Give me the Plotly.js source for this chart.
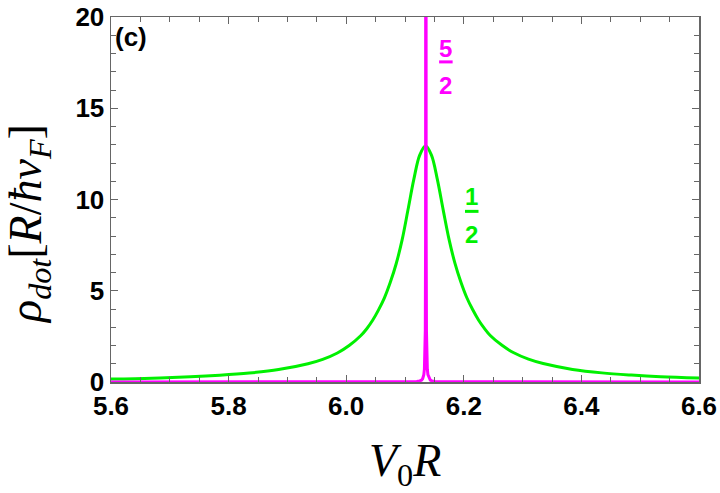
<!DOCTYPE html>
<html>
<head>
<meta charset="utf-8">
<script src="https://cdn.plot.ly/plotly-3.0.1.min.js"></script>
<style>
  html, body { margin: 0; padding: 0; background: #fff; }
  #chart { width: 720px; height: 493px; }
</style>
</head>
<body>
<div id="chart"></div>
<script>
// spin 1/2 resonance (green)
const xHalf = [5.600, 5.670, 5.735, 5.785, 5.835, 5.885, 5.935, 5.960, 5.985, 6.005,
               6.025, 6.035, 6.045, 6.055, 6.065, 6.075, 6.085, 6.095, 6.105, 6.115,
               6.125, 6.135, 6.145, 6.155, 6.165, 6.175, 6.185, 6.195, 6.205, 6.215,
               6.225, 6.235, 6.245, 6.265, 6.285, 6.310, 6.335, 6.385, 6.435, 6.485,
               6.535, 6.600];
const yHalf = [0.16, 0.21, 0.285, 0.37, 0.49, 0.68, 1.00, 1.24, 1.59, 2.00,
               2.55, 2.92, 3.38, 3.95, 4.61, 5.46, 6.48, 7.77, 9.42, 11.10,
               12.43, 12.95, 12.43, 11.10, 9.42, 7.80, 6.50, 5.48, 4.63, 3.97,
               3.40, 2.94, 2.55, 2.01, 1.60, 1.25, 1.01, 0.69, 0.50, 0.38,
               0.29, 0.22];

// spin 5/2 resonance (magenta), very narrow, runs off the top
const xFive = [5.600, 5.900, 6.100, 6.120, 6.125, 6.128, 6.130, 6.132, 6.133, 6.134,
               6.1345, 6.135, 6.1355, 6.136, 6.1365, 6.137, 6.138, 6.139, 6.141, 6.143,
               6.146, 6.151, 6.170, 6.400, 6.600];
const yFive = [0.00, 0.00, 0.01, 0.03, 0.06, 0.10, 0.18, 0.40, 0.70, 1.60,
               2.80, 8.00, 60.0, 8.00, 2.80, 1.60, 0.70, 0.40, 0.18, 0.10,
               0.06, 0.03, 0.01, 0.00, 0.00];

const xTicks = [5.6, 5.8, 6.0, 6.2, 6.4, 6.6];
const xTickText = ['5.6', '5.8', '6.0', '6.2', '6.4', '6.6'];
const yTicks = [0, 5, 10, 15, 20];

const green = '#00f000';
const magenta = '#ff00ff';
const frame = '#666666';

const traceHalf = {
    x: xHalf, y: yHalf,
    type: 'scatter', mode: 'lines',
    line: { color: green, width: 3, shape: 'spline', smoothing: 1 },
    hoverinfo: 'skip'
};

const traceFive = {
    x: xFive, y: yFive,
    type: 'scatter', mode: 'lines',
    line: { color: magenta, width: 3 },
    hoverinfo: 'skip'
};

const tickFont = { family: 'Liberation Sans, Arial, sans-serif', size: 26, weight: 'bold', color: '#000' };
const titleFont = { family: 'Liberation Serif, Times New Roman, serif', size: 46, color: '#000' };
const labelFont = { family: 'Liberation Sans, Arial, sans-serif', size: 24, weight: 'bold' };

function axisStyle() {
    return {
        showline: true, linecolor: frame, linewidth: 1.5, mirror: 'ticks',
        ticks: 'inside', ticklen: 7, tickwidth: 1.2, tickcolor: frame,
        showgrid: false, zeroline: false,
        tickfont: tickFont,
        fixedrange: true
    };
}

const xaxis = Object.assign(axisStyle(), {
    range: [5.6, 6.6],
    tickvals: xTicks, ticktext: xTickText,
    minor: { dtick: 0.05, ticks: 'inside', ticklen: 5, tickcolor: frame, tickwidth: 1, showgrid: false }
});

const yaxis = Object.assign(axisStyle(), {
    range: [0, 20],
    tickvals: yTicks,
    minor: { dtick: 1, ticks: 'inside', ticklen: 5, tickcolor: frame, tickwidth: 1, showgrid: false }
});

const layout = {
    width: 720, height: 493,
    margin: { l: 111, r: 21, t: 17, b: 111 },
    paper_bgcolor: '#fff', plot_bgcolor: '#fff',
    showlegend: false,
    xaxis: xaxis, yaxis: yaxis,
    annotations: [
        // axis titles
        { xref: 'paper', yref: 'paper', x: 0.5, y: 0, xanchor: 'center', yanchor: 'middle',
          yshift: -82, text: '<i>V</i><sub>0</sub><i>R</i>', showarrow: false, font: titleFont },
        { xref: 'paper', yref: 'y', x: 0, y: 8.66, xanchor: 'center', yanchor: 'middle',
          xshift: -82, textangle: -90, showarrow: false, font: titleFont,
          text: '<i>ρ</i><sub><i>dot</i></sub>[<i>R</i>/<i>ħv</i><sub><i>F</i></sub>]' },
        // panel tag
        { xref: 'paper', yref: 'paper', x: 0, y: 1, xanchor: 'left', yanchor: 'top',
          xshift: 2, yshift: -3, text: '<b>(c)</b>', showarrow: false,
          font: { family: 'Liberation Sans, Arial, sans-serif', size: 26, weight: 'bold', color: '#000' } },
        // curve labels (fractions)
        { x: 6.1697, y: 18.30, text: '<b>5</b>', showarrow: false, font: Object.assign({ color: magenta }, labelFont) },
        { x: 6.1697, y: 16.25, text: '<b>2</b>', showarrow: false, font: Object.assign({ color: magenta }, labelFont) },
        { x: 6.213, y: 10.14, text: '<b>1</b>', showarrow: false, font: Object.assign({ color: green }, labelFont) },
        { x: 6.213, y: 8.06, text: '<b>2</b>', showarrow: false, font: Object.assign({ color: green }, labelFont) }
    ],
    shapes: [
        { type: 'line', x0: 6.158, x1: 6.181, y0: 17.54, y1: 17.54, line: { color: magenta, width: 3 } },
        { type: 'line', x0: 6.202, x1: 6.225, y0: 9.35, y1: 9.35, line: { color: green, width: 3 } }
    ]
};

Plotly.newPlot('chart', [traceHalf, traceFive], layout, { staticPlot: true, displayModeBar: false });
</script>
</body>
</html>
